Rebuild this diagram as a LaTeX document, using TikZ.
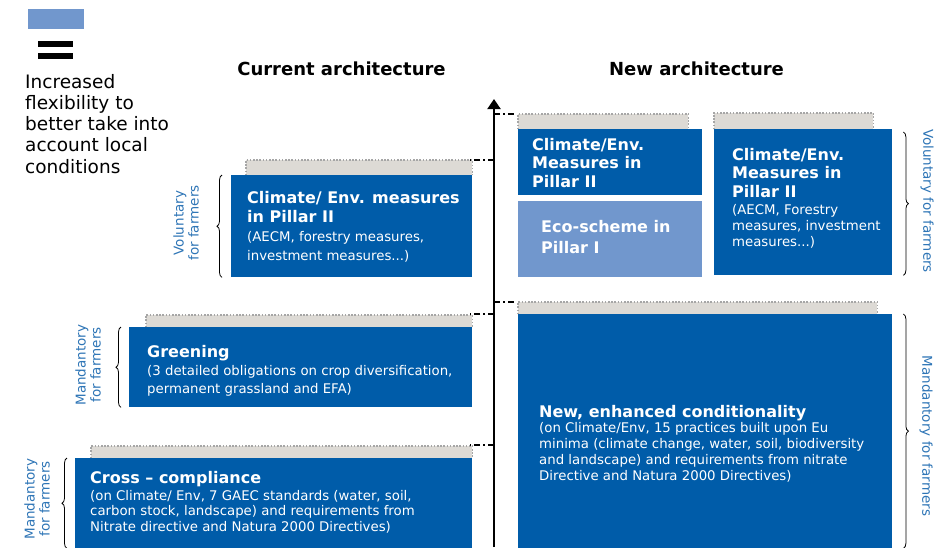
\documentclass[tikz,border=0pt]{standalone}
\usepackage{fontspec}
\setmainfont{DejaVu Sans}
\usetikzlibrary{arrows.meta,decorations.pathreplacing}
\definecolor{blueD}{RGB}{0,92,169}
\definecolor{blueL}{RGB}{113,151,205}
\definecolor{grayF}{RGB}{221,218,213}
\definecolor{grayB}{RGB}{166,166,166}
\definecolor{labelC}{RGB}{46,117,182}
\tikzset{
  box/.style={draw=none,inner sep=0pt,anchor=north west},
  darkbox/.style={box,fill=blueD},
  lightbox/.style={box,fill=blueL},
  shadow/.style={box,fill=grayF},
  shadowedge/.style={grayB,line width=1.6pt,dash pattern=on 1.6pt off 1.6pt},
  ttl/.style={inner sep=0pt,anchor=base west,align=left,text=white,font=\bfseries\fontsize{16}{19}\selectfont},
  bdy/.style={inner sep=0pt,anchor=base west,align=left,text=white,font=\fontsize{13.3}{16}\selectfont},
  lbl/.style={inner sep=0pt,align=center,text=labelC,font=\fontsize{13.5}{15}\selectfont},
  bracedeco/.style={decorate,decoration={brace,amplitude=5pt},line width=0.8pt},
  tick/.style={line width=2pt,dash pattern=on 6pt off 3pt on 2pt off 3pt},
  head/.style={inner sep=0pt,anchor=base,font=\bfseries\fontsize{18}{21}\selectfont},
}
\begin{document}
\begin{tikzpicture}[x=1pt,y=-1pt]
\useasboundingbox (0,0) rectangle (939,547);
% legend
\node[box,fill=blueL,minimum width=56pt,minimum height=20pt] (legbox) at (28,9) {};
\node[box,fill=black,minimum width=35pt,minimum height=6pt] (bar1) at (38,41) {};
\node[box,fill=black,minimum width=35pt,minimum height=6pt] (bar2) at (38,53) {};
% (base anchor of a multi-line node = baseline of its last line)
\node[inner sep=0pt,anchor=base west,align=left,font=\fontsize{18.5}{21.25}\selectfont] (legtxt) at (25,173)
  {Increased\\flexibility to\\better take into\\account local\\conditions};
% headings
\node[head] (hcur) at (341.5,75) {Current architecture};
\node[head] (hnew) at (696.5,75) {New architecture};
% shadows
\foreach \n/\x/\y/\w/\h in {g1/246/160/226/15, g2/146/315/326/12, g3/91/446/381/12, g4/518/114/170/15, g5/714/113/159/16, g6/518/302/359/12}{
  \node[shadow,minimum width=\w pt,minimum height=\h pt] (\n) at (\x,\y) {};
  \draw[shadowedge] (\n.south west) -- (\n.north west) -- (\n.north east) -- (\n.south east);
}
% boxes
\node[darkbox,minimum width=241pt,minimum height=102pt] (b1) at (231,175) {};
\node[darkbox,minimum width=343pt,minimum height=80pt] (b2) at (129,327) {};
\node[darkbox,minimum width=397pt,minimum height=92pt] (b3) at (75,458) {};
\node[darkbox,minimum width=184pt,minimum height=66pt] (b4) at (518,129) {};
\node[lightbox,minimum width=184pt,minimum height=76pt] (b5) at (518,201) {};
\node[darkbox,minimum width=178pt,minimum height=146pt] (b6) at (714,129) {};
\node[darkbox,minimum width=374pt,minimum height=236pt] (b7) at (518,314) {};
% texts
\node[ttl] (t1) at (247,222) {Climate/ Env. measures\\in Pillar II};
\node[bdy,font=\fontsize{13.3}{19}\selectfont] (d1) at (247,260) {(AECM, forestry measures,\\investment measures...)};
\node[ttl] (t2) at (147,357) {Greening};
\node[bdy,font=\fontsize{13.3}{18}\selectfont] (d2) at (147,393) {(3 detailed obligations on crop diversification,\\permanent grassland and EFA)};
\node[ttl] (t3) at (90,483) {Cross – compliance};
\node[bdy,font=\fontsize{13.3}{15.5}\selectfont] (d3) at (90,531) {(on Climate/ Env, 7 GAEC standards (water, soil,\\carbon stock, landscape) and requirements from\\Nitrate directive and Natura 2000 Directives)};
\node[ttl,font=\bfseries\fontsize{16}{18.5}\selectfont] (t4) at (532,187) {Climate/Env.\\Measures in\\Pillar II};
\node[ttl,font=\bfseries\fontsize{16}{21}\selectfont] (t5) at (541,253) {Eco-scheme in\\Pillar I};
\node[ttl,font=\bfseries\fontsize{16}{18.5}\selectfont] (t6) at (732,197) {Climate/Env.\\Measures in\\Pillar II};
\node[bdy] (d6) at (732,246) {(AECM, Forestry\\measures, investment\\measures...)};
\node[ttl] (t7) at (539,417) {New, enhanced conditionality};
\node[bdy,font=\fontsize{13.3}{15.7}\selectfont] (d7) at (539,480) {(on Climate/Env, 15 practices built upon Eu\\minima (climate change, water, soil, biodiversity\\and landscape) and requirements from nitrate\\Directive and Natura 2000 Directives)};
% axis
\coordinate (axbot) at (494,547);
\coordinate (axtop) at (494,99);
\draw[line width=2pt,-{Triangle[width=13pt,length=10pt]}] (axbot) -- (axtop);
% ticks
\coordinate (r1) at (494,114); \coordinate (r1e) at (517,114);
\coordinate (r2) at (494,302); \coordinate (r2e) at (517,302);
\coordinate (l1) at (470,160); \coordinate (l1e) at (494,160);
\coordinate (l2) at (470,314); \coordinate (l2e) at (494,314);
\coordinate (l3) at (470,445); \coordinate (l3e) at (494,445);
\draw[tick] (r1) -- (r1e);
\draw[tick] (r2) -- (r2e);
\draw[tick] (l1e) -- (l1);
\draw[tick] (l2e) -- (l2);
\draw[tick] (l3e) -- (l3);
% braces
\draw[bracedeco] ([xshift=-9pt]b1.south west) -- ([xshift=-9pt]b1.north west);
\draw[bracedeco] ([xshift=-8pt]b2.south west) -- ([xshift=-8pt]b2.north west);
\draw[bracedeco] ([xshift=-8pt,yshift=2pt]b3.south west) -- ([xshift=-8pt]b3.north west);
\draw[bracedeco] ([xshift=11pt,yshift=-3pt]b6.north east) -- ([xshift=11pt,yshift=0pt]b6.south east);
\draw[bracedeco] ([xshift=11pt]b7.north east) -- ([xshift=11pt,yshift=2pt]b7.south east);
% labels
\node[lbl,rotate=90] (v1) at (186,223) {Voluntary\\for farmers};
\node[lbl,rotate=90] (m1) at (88,365) {Mandantory\\for farmers};
\node[lbl,rotate=90] (m2) at (37,499) {Mandantory\\for farmers};
\node[lbl,rotate=-90] (v2) at (927,201) {Voluntary for farmers};
\node[lbl,rotate=-90] (m3) at (926,436) {Mandantory for farmers};
\end{tikzpicture}
\end{document}
